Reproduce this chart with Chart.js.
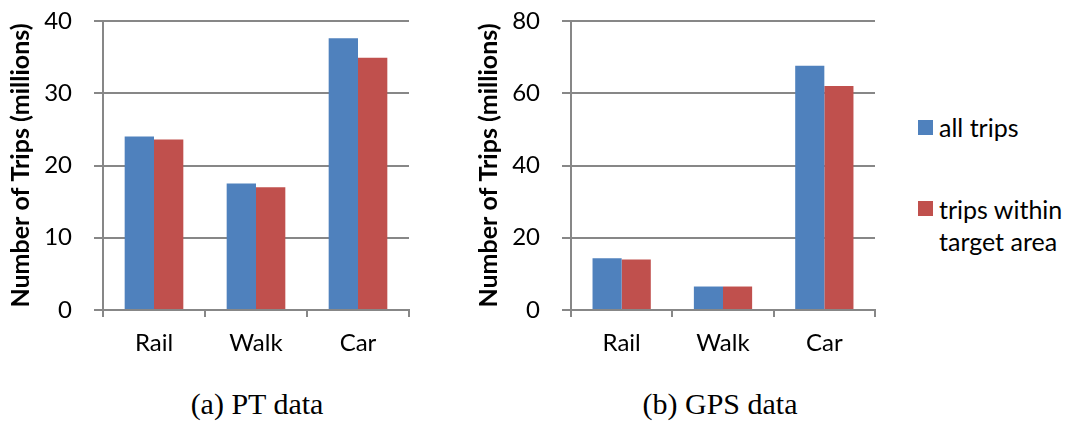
<!DOCTYPE html>
<html>
<head>
<meta charset="utf-8">
<script src="https://cdn.jsdelivr.net/npm/chart.js@4/dist/chart.umd.min.js"></script>
<style>
  html, body { margin: 0; padding: 0; background: #fff; }
  body { width: 1067px; height: 422px; position: relative; overflow: hidden; }
  .panel { position: absolute; top: 0; width: 420px; height: 360px; }
  .caption { position: absolute; top: 386px; width: 300px; text-align: center;
             font-family: "Liberation Serif", "DejaVu Serif", serif; font-size: 30px; color: #000;
             line-height: 36px; }
  .legend { position: absolute; left: 918px; font-family: Lato, sans-serif; font-size: 25px; color: #000; }
  .legend .item { position: absolute; left: 0; white-space: nowrap; }
  .legend .swatch { position: absolute; left: 0; width: 15px; height: 15px; }
  .legend .label { position: absolute; left: 21px; line-height: 32px; }
</style>
</head>
<body>
<div class="panel" style="left:0"><canvas id="ptChart" width="420" height="360"></canvas></div>
<div class="panel" style="left:468px"><canvas id="gpsChart" width="420" height="360"></canvas></div>

<div class="caption" style="left:107px">(a) PT data</div>
<div class="caption" style="left:570px">(b) GPS data</div>

<div class="legend" id="legend"></div>

<script>
// Trip mode categories and trip counts (millions)
const categories = ['Rail', 'Walk', 'Car'];
const seriesNames = ['all trips', ['trips within', 'target area']];
const ptAllTrips = [24.0, 17.5, 37.6];
const ptTargetTrips = [23.6, 17.0, 34.9];
const gpsAllTrips = [14.3, 6.5, 67.6];
const gpsTargetTrips = [14.0, 6.5, 62.0];
const ptTicks = { max: 40, step: 10 };
const gpsTicks = { max: 80, step: 20 };
const yTitle = 'Number of Trips (millions)';

const BLUE = '#4F81BD';
const RED = '#C0504D';
const GRID = '#878787';
const FONT = 'Lato';

function makeChart(canvasId, allTrips, targetTrips, tickSpec, rightPad) {
  return new Chart(document.getElementById(canvasId), {
    type: 'bar',
    data: {
      labels: categories,
      datasets: [
        { label: 'all trips', data: allTrips, backgroundColor: BLUE, borderWidth: 0,
          categoryPercentage: 0.575, barPercentage: 1.0 },
        { label: 'trips within target area', data: targetTrips, backgroundColor: RED, borderWidth: 0,
          categoryPercentage: 0.575, barPercentage: 1.0 }
      ]
    },
    options: {
      responsive: false,
      devicePixelRatio: 1,
      animation: false,
      layout: { padding: { top: 21, right: rightPad, left: 0, bottom: 0 } },
      plugins: { legend: { display: false }, tooltip: { enabled: false } },
      scales: {
        x: {
          grid: { offset: true, drawOnChartArea: false, drawTicks: true, tickLength: 7,
                  color: GRID, lineWidth: 2 },
          border: { display: true, color: GRID, width: 2 },
          ticks: { color: '#000', padding: 12, font: { family: FONT, size: 24 } },
          afterFit: (s) => { s.height = 50; }
        },
        y: {
          min: 0, max: tickSpec.max,
          grid: { color: GRID, lineWidth: 2, drawTicks: true, tickLength: 9 },
          border: { display: true, color: GRID, width: 2 },
          ticks: { stepSize: tickSpec.step, color: '#000', padding: 22,
                   font: { family: FONT, size: 24 } },
          title: { display: true, text: yTitle, color: '#000',
                   font: { family: FONT, size: 25, weight: 'bold' },
                   padding: { top: 6, bottom: 0 } },
          afterFit: (s) => {
            s.width = 103;
            // the label gap is horizontal only; keep it out of the vertical padding
            s.paddingTop = 0;
            s.paddingBottom = 0;
          }
        }
      }
    }
  });
}

makeChart('ptChart', ptAllTrips, ptTargetTrips, ptTicks, 11);
makeChart('gpsChart', gpsAllTrips, gpsTargetTrips, gpsTicks, 13);

// Shared legend to the right of the second panel
const legendEl = document.getElementById('legend');
const legendRows = [
  { color: BLUE, swatchTop: 120, textTop: 111 },
  { color: RED, swatchTop: 201, textTop: 193 }
];
seriesNames.forEach((name, i) => {
  const row = legendRows[i];
  const item = document.createElement('div');
  item.className = 'item';
  const sw = document.createElement('div');
  sw.className = 'swatch';
  sw.style.top = row.swatchTop + 'px';
  sw.style.background = row.color;
  const lab = document.createElement('div');
  lab.className = 'label';
  lab.style.top = row.textTop + 'px';
  lab.innerHTML = (Array.isArray(name) ? name : [name]).join('<br>');
  item.appendChild(sw);
  item.appendChild(lab);
  legendEl.appendChild(item);
});
</script>
</body>
</html>
